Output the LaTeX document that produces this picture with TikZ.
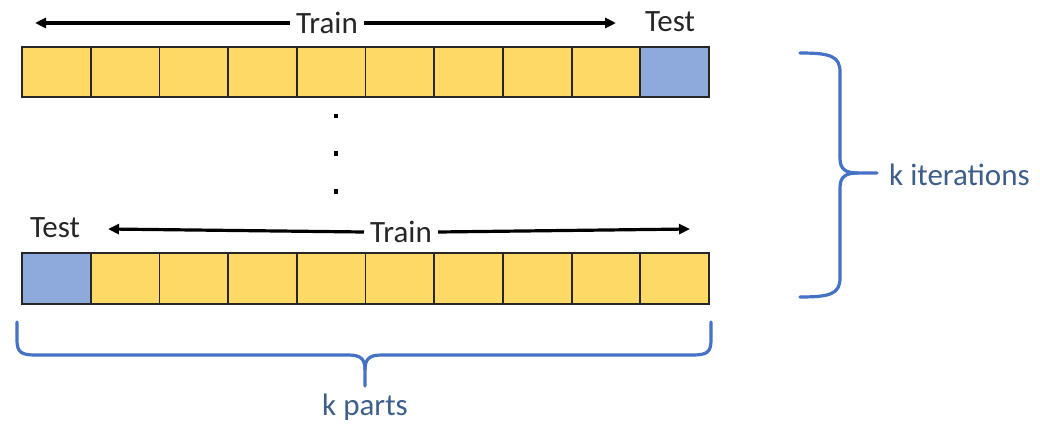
\documentclass[tikz,border=0pt]{standalone}
\usepackage{fontspec}
\setmainfont{Carlito}
\usetikzlibrary{arrows.meta}
\definecolor{cellyellow}{HTML}{FFD966}
\definecolor{cellblue}{HTML}{8EA9DB}
\definecolor{bracecol}{HTML}{4472C4}
\definecolor{bracetext}{HTML}{3E5F8A}
\definecolor{txt}{HTML}{262626}
\tikzset{
  cell/.style={draw=black!85, line width=1.8pt, minimum width=68.7pt, minimum height=50.5pt, inner sep=0pt, outer sep=0pt},
  train/.style={cell, fill=cellyellow},
  test/.style={cell, fill=cellblue},
  lbl/.style={text=txt, font=\fontsize{31}{34}\selectfont, inner xsep=6pt, inner ysep=2pt},
  bl/.style={text=bracetext, font=\fontsize{31}{34}\selectfont, inner sep=2pt},
  arr/.style={-{Triangle[length=11pt,width=10pt]}, line width=3.2pt, black},
  brc/.style={draw=bracecol, line width=3.2pt, line cap=round, line join=round},
  dot/.style={rectangle, fill=black, inner sep=0pt, minimum size=4.5pt}
}
\begin{document}
\begin{tikzpicture}[x=1pt,y=-1pt]
\useasboundingbox (0,0) rectangle (1040,425);
% top row
\foreach \i in {0,...,8} {
  \node[train] (a\i) at ({22+68.7*\i+34.35},72) {};
}
\node[test] (a9) at ({22+68.7*9+34.35},72) {};
% bottom row
\node[test] (b0) at ({22+34.35},278.5) {};
\foreach \i in {1,...,9} {
  \node[train] (b\i) at ({22+68.7*\i+34.35},278.5) {};
}
% top labels
\node[lbl] (trainA) at (327,23) {Train};
\node[lbl] (testA) at (670,22) {Test};
\coordinate (tAL) at (35,23);
\coordinate (tAR) at (616,23);
\draw[arr] (trainA.west) -- (tAL);
\draw[arr] (trainA.east) -- (tAR);
% bottom labels
\node[lbl] (trainB) at (401,232) {Train};
\node[lbl] (testB) at (55,228) {Test};
\coordinate (tBL) at (108,229);
\coordinate (tBR) at (690,229);
\draw[arr] (trainB.west) -- (tBL);
\draw[arr] (trainB.east) -- (tBR);
% dots
\node[dot] (d1) at (336,116) {};
\node[dot] (d2) at (336,153.5) {};
\node[dot] (d3) at (336,191.5) {};
% right brace
\path[brc] (800,53) .. controls (830,53) and (840,56) .. (840,72) -- (840,158)
  .. controls (840,169) and (845,173) .. (858,173) -- (877,173);
\path[brc] (800,297) .. controls (830,297) and (840,294) .. (840,278) -- (840,188)
  .. controls (840,177) and (845,173) .. (858,173);
\node[bl, anchor=west] (kit) at (887,175) {k iterations};
% bottom brace
\path[brc] (17,322) -- (17,340) .. controls (17,352) and (21,355) .. (35,355) -- (348,355)
  .. controls (361,355) and (365,359) .. (365,370) -- (365,386);
\path[brc] (711,322) -- (711,340) .. controls (711,352) and (707,355) .. (693,355) -- (382,355)
  .. controls (369,355) and (365,359) .. (365,370);
\node[bl] (kp) at (365,407) {k parts};
\end{tikzpicture}
\end{document}
